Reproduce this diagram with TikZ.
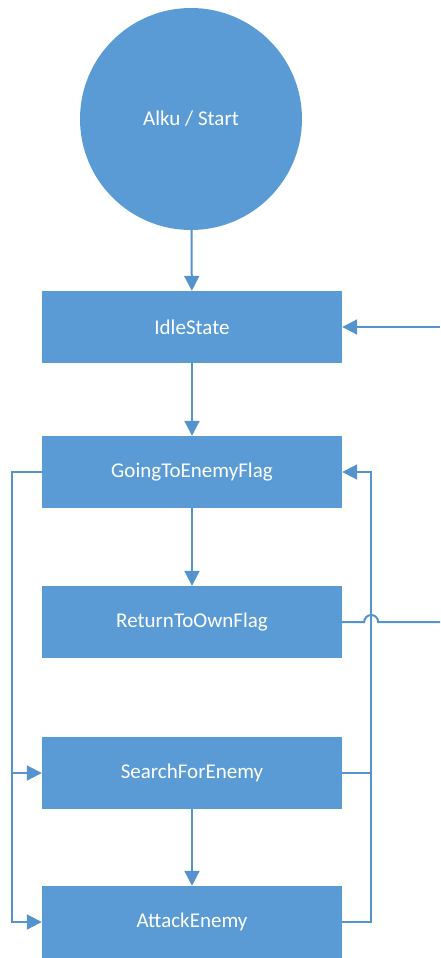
\documentclass[tikz,border=0pt]{standalone}
\usepackage{fontspec}
\setmainfont{Carlito}
\usetikzlibrary{arrows.meta}
\definecolor{blu}{HTML}{5B9BD5}
\definecolor{lne}{HTML}{5593CE}
\begin{document}
\begin{tikzpicture}[x=1pt,y=-1pt,
  stbox/.style={fill=blu,draw=none,minimum width=300pt,minimum height=72pt,inner sep=0pt,text=white,font=\fontsize{21pt}{25pt}\selectfont},
  stcirc/.style={circle,fill=blu,draw=none,minimum size=222pt,inner sep=0pt,text=white,font=\fontsize{21pt}{25pt}\selectfont},
  conn/.style={draw=lne,line width=2pt},
  arr/.style={conn,-{Triangle[length=15pt,width=15pt]}}]
\useasboundingbox (0,0) rectangle (440,958);
\node[stcirc] (start) at (191,119) {\raisebox{-2pt}{Alku / Start}};
\node[stbox] (idle) at (192,327) {IdleState};
\node[stbox] (gtef) at (192,472) {GoingToEnemyFlag};
\node[stbox] (rtof) at (192,622) {ReturnToOwnFlag};
\node[stbox] (sfe) at (192,773) {SearchForEnemy};
\node[stbox] (ae) at (192,922) {AttackEnemy};
\coordinate (idleR) at (440,327);
\coordinate (rtofR) at (440,622);
\coordinate (leftJ) at (12,773);
\draw[arr] (start) -- (idle);
\draw[arr] (idle) -- (gtef);
\draw[arr] (gtef) -- (rtof);
\draw[arr] (sfe) -- (ae);
\draw[arr] (idleR) -- (idle.east);
\draw[arr] (gtef.west) -- ++(-30,0) |- (ae.west);
\draw[arr] (leftJ) -- (sfe.west);
\draw[arr] (ae.east) -- ++(29,0) |- (gtef.east);
\draw[conn] (sfe.east) -- ++(29,0);
\draw[conn] (rtof.east) -- ++(22,0) arc(180:360:7) -- (rtofR);
\end{tikzpicture}
\end{document}
